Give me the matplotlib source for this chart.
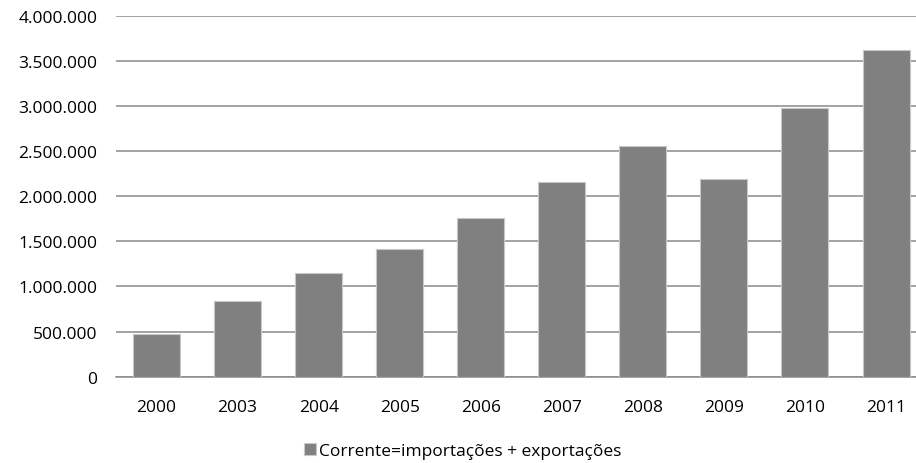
import matplotlib.pyplot as plt
from matplotlib.ticker import FuncFormatter

# Data
years = ['2000', '2003', '2004', '2005', '2006', '2007', '2008', '2009', '2010', '2011']
corrente = [473000, 835000, 1146000, 1415000, 1758000, 2157000, 2556000, 2194000, 2974000, 3623000]
serie_label = 'Corrente=importações + exportações'

plt.rcParams['font.family'] = ['Open Sans', 'DejaVu Sans']

fig = plt.figure(figsize=(9.16, 4.64), dpi=100)
ax = fig.add_axes([116 / 916, 1 - 377.7 / 464, 1 - 116 / 916, (377.7 - 16.7) / 464])

x = list(range(len(years)))
ax.bar(x, corrente, width=0.58, color='#808080', edgecolor='#c8c8c8', linewidth=0.8,
       label=serie_label, zorder=3)

ax.set_ylim(0, 4000000)
ax.set_yticks(range(0, 4000001, 500000))
ax.yaxis.set_major_formatter(FuncFormatter(lambda v, p: '{:,.0f}'.format(v).replace(',', '.')))
ax.set_xlim(-0.5, 9.37)
ax.set_xticks(x)
ax.set_xticklabels(years)

ax.grid(axis='y', color='#8a8a8a', linewidth=1.1, zorder=0)
for s in ['top', 'right', 'left']:
    ax.spines[s].set_visible(False)
ax.spines['bottom'].set_color('#8a8a8a')
ax.spines['bottom'].set_linewidth(1.1)
ax.tick_params(length=0, labelsize=12.5, colors='black')
ax.tick_params(axis='y', pad=13.5)
ax.tick_params(axis='x', pad=16)

fig.legend(loc='lower center', bbox_to_anchor=(0.505, -0.025), frameon=False, fontsize=12.5,
           handlelength=0.7, handleheight=0.7, handletextpad=0.15)

fig.savefig('out.png', dpi=100)
